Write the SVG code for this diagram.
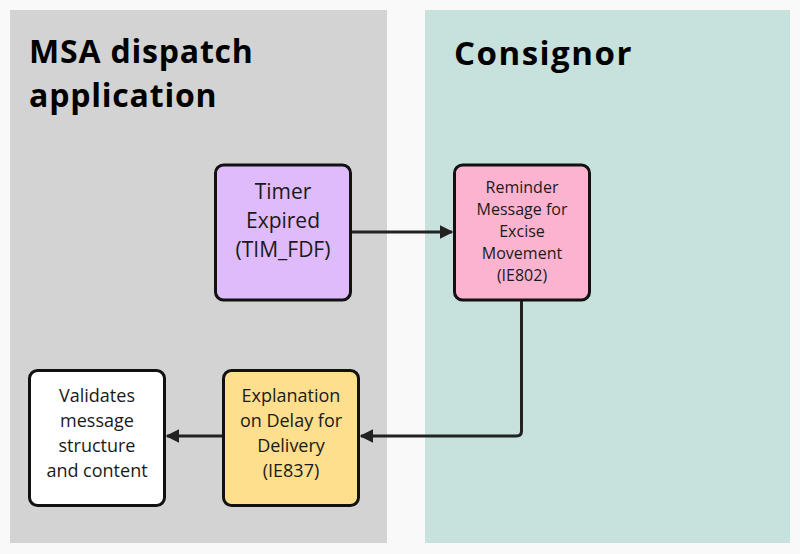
<svg xmlns="http://www.w3.org/2000/svg" width="800" height="554" viewBox="0 0 800 554">
<style>
.lane-title{font-family:"Open Sans","Liberation Sans",sans-serif;font-weight:700;font-size:32px;letter-spacing:0.8px;fill:#000}
.node rect{stroke:#111;stroke-width:3}
.t{font-family:"Open Sans","Liberation Sans",sans-serif;fill:#1a1a1a;text-anchor:middle}
.conn{fill:none;stroke:#222;stroke-width:3}
</style>
<defs>
<marker id="arr" viewBox="0 0 10 10" refX="9" refY="5" markerWidth="4.5" markerHeight="4.5" markerUnits="strokeWidth" orient="auto">
<path d="M0,0 L10,5 L0,10 Z" fill="#222"/>
</marker>
</defs>
<rect x="0" y="0" width="800" height="554" fill="#f9f9f9"/>
<g id="lane-msa">
<rect x="10" y="10" width="377" height="533" fill="#d3d3d3"/>
<text class="lane-title" x="29" y="63">MSA dispatch</text>
<text class="lane-title" x="29" y="107">application</text>
</g>
<g id="lane-consignor">
<rect x="425" y="10" width="365" height="533" fill="#c7e2dd"/>
<text class="lane-title" x="454" y="65" style="font-size:33px;letter-spacing:1.5px">Consignor</text>
</g>
<g id="connectors">
<path class="conn" d="M351,232 H452" marker-end="url(#arr)"/>
<path class="conn" d="M521.5,300 V431 Q521.5,436 516.5,436 H361" marker-end="url(#arr)"/>
<path class="conn" d="M223,436 H167" marker-end="url(#arr)"/>
</g>
<g id="timer" class="node">
<rect x="215.5" y="165" width="135" height="135" rx="8" fill="#e0bbfb"/>
<text class="t" font-size="21"><tspan x="283" y="199">Timer</tspan><tspan x="283" y="228">Expired</tspan><tspan x="283" y="257">(TIM_FDF)</tspan></text>
</g>
<g id="reminder" class="node">
<rect x="454.5" y="165" width="135" height="135" rx="8" fill="#fcb3d0"/>
<text class="t" font-size="16"><tspan x="522" y="193">Reminder</tspan><tspan x="522" y="215">Message for</tspan><tspan x="522" y="237">Excise</tspan><tspan x="522" y="259">Movement</tspan><tspan x="522" y="281">(IE802)</tspan></text>
</g>
<g id="explanation" class="node">
<rect x="223.5" y="370.5" width="135" height="135" rx="8" fill="#fedf8e"/>
<text class="t" font-size="18"><tspan x="291" y="402">Explanation</tspan><tspan x="291" y="427">on Delay for</tspan><tspan x="291" y="452">Delivery</tspan><tspan x="291" y="477">(IE837)</tspan></text>
</g>
<g id="validates" class="node">
<rect x="29.5" y="370.5" width="135" height="135" rx="8" fill="#ffffff"/>
<text class="t" font-size="18"><tspan x="97" y="402">Validates</tspan><tspan x="97" y="427">message</tspan><tspan x="97" y="452">structure</tspan><tspan x="97" y="477">and content</tspan></text>
</g>
</svg>
